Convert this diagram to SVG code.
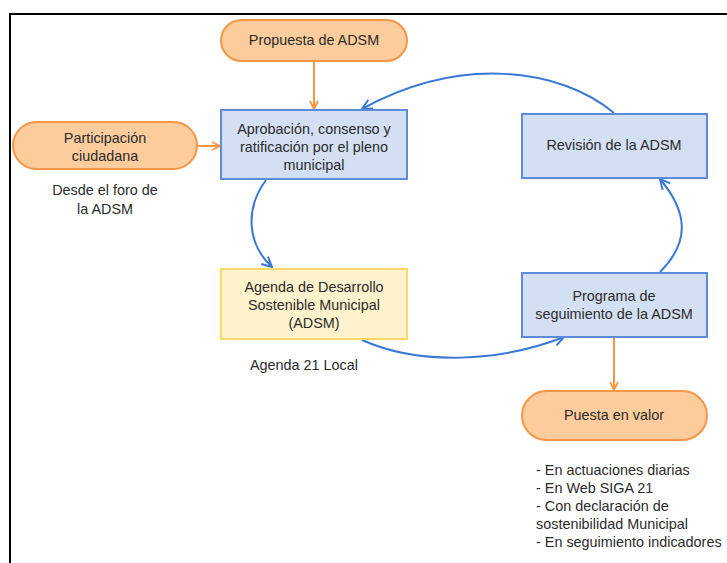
<svg xmlns="http://www.w3.org/2000/svg" width="727" height="563" viewBox="0 0 727 563">
<defs>
<style>
text{font-family:"Liberation Sans",Arial,sans-serif;font-size:14.4px;fill:#2b2b2b;text-anchor:middle}
.pill{fill:#FCCC9C;stroke:#F79646;stroke-width:2}
.blue{fill:#D3E0F3;stroke:#5B8BD9;stroke-width:2}
.yel{fill:#FFF2CC;stroke:#FFD966;stroke-width:2}
.oc{stroke:#F79646;stroke-width:2;fill:none}
.bc{stroke:#3A78D8;stroke-width:2;fill:none}
.lt{text-anchor:start}
</style>
<marker id="oa" viewBox="0 0 10 10" refX="9" refY="5" markerWidth="10" markerHeight="10" markerUnits="userSpaceOnUse" orient="auto">
<path d="M1 1 L9 5 L1 9" fill="none" stroke="#F79646" stroke-width="1.8"/>
</marker>
<marker id="ba" viewBox="0 0 12 12" refX="11" refY="6" markerWidth="12" markerHeight="12" markerUnits="userSpaceOnUse" orient="auto">
<path d="M1 1 L11 6 L1 11" fill="none" stroke="#3A78D8" stroke-width="2"/>
</marker>
</defs>
<rect width="727" height="563" fill="#fff"/>
<path d="M10 563 L10 14 L727 14" fill="none" stroke="#000" stroke-width="2"/>
<g id="connectors">
<path class="oc" d="M314 61 L314 109" marker-end="url(#oa)"/>
<path class="oc" d="M197 146 L220 146" marker-end="url(#oa)"/>
<path class="oc" d="M614 337 L614 390" marker-end="url(#oa)"/>
<path class="bc" d="M614 113 C560 68 460 55 362 109" marker-end="url(#ba)"/>
<path class="bc" d="M266 180 C244 210 248 245 272 267" marker-end="url(#ba)"/>
<path class="bc" d="M362 340 C420 366 500 362 564 337" marker-end="url(#ba)"/>
<path class="bc" d="M660 272 C692 240 686 210 660 179" marker-end="url(#ba)"/>
</g>
<g id="propuesta">
<rect class="pill" x="221" y="20" width="186" height="41" rx="20.5"/>
<text x="314" y="45">Propuesta de ADSM</text>
</g>
<g id="participacion">
<rect class="pill" x="13" y="122" width="184" height="47" rx="23.5"/>
<text x="105" y="143">Participación</text>
<text x="105" y="161">ciudadana</text>
</g>
<g id="desde">
<text x="105" y="195">Desde el foro de</text>
<text x="105" y="214">la ADSM</text>
</g>
<g id="aprobacion">
<rect class="blue" x="221" y="110" width="186" height="69"/>
<text x="314" y="134">Aprobación, consenso y</text>
<text x="314" y="152">ratificación por el pleno</text>
<text x="314" y="170">municipal</text>
</g>
<g id="agenda">
<rect class="yel" x="221" y="269" width="186" height="70"/>
<text x="314" y="292">Agenda de Desarrollo</text>
<text x="314" y="310">Sostenible Municipal</text>
<text x="314" y="328">(ADSM)</text>
</g>
<g id="agenda21">
<text x="304" y="370">Agenda 21 Local</text>
</g>
<g id="revision">
<rect class="blue" x="522" y="114" width="185" height="64"/>
<text x="614" y="150">Revisión de la ADSM</text>
</g>
<g id="programa">
<rect class="blue" x="522" y="273" width="185" height="64"/>
<text x="614" y="301">Programa de</text>
<text x="614" y="319">seguimiento de la ADSM</text>
</g>
<g id="puesta">
<rect class="pill" x="522" y="391" width="185" height="49" rx="24.5"/>
<text x="614" y="420">Puesta en valor</text>
</g>
<g id="lista">
<text class="lt" x="536" y="475">- En actuaciones diarias</text>
<text class="lt" x="536" y="493">- En Web SIGA 21</text>
<text class="lt" x="536" y="511">- Con declaración de</text>
<text class="lt" x="536" y="529">sostenibilidad Municipal</text>
<text class="lt" x="536" y="547">- En seguimiento indicadores</text>
</g>
</svg>
